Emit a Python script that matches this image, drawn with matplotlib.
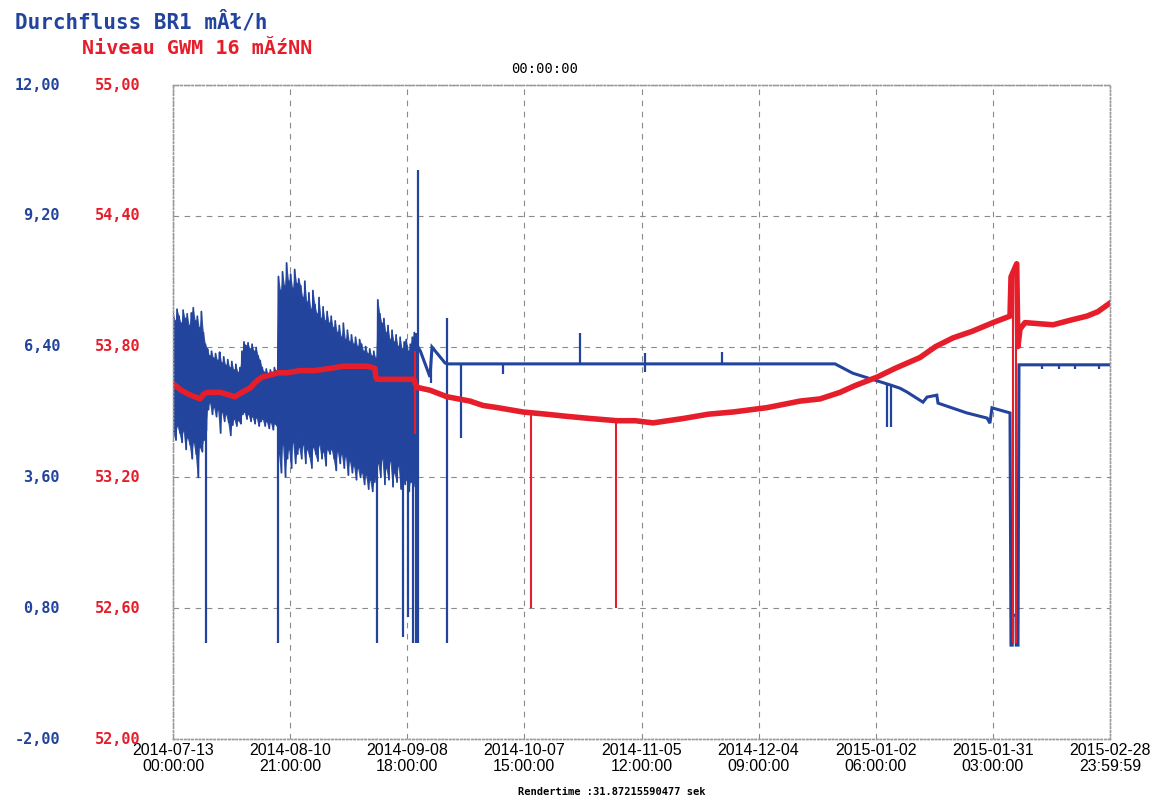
import matplotlib
matplotlib.use("Agg")
import matplotlib.pyplot as plt
import matplotlib.transforms as mtransforms
import numpy as np

BLUE = '#22449c'
RED = '#e61e2b'

# x axis: days since 2014-07-13 00:00:00
X_LABELS = ['2014-07-13\n00:00:00', '2014-08-10\n21:00:00', '2014-09-08\n18:00:00',
            '2014-10-07\n15:00:00', '2014-11-05\n12:00:00', '2014-12-04\n09:00:00',
            '2015-01-02\n06:00:00', '2015-01-31\n03:00:00', '2015-02-28\n23:59:59']
BLUE_TICKS = [12.0, 9.2, 6.4, 3.6, 0.8, -2.0]
RED_TICKS = [55.0, 54.4, 53.8, 53.2, 52.6, 52.0]

# Durchfluss, noisy pump phase (max / min per half day)
noisy_days = np.arange(0, 60.5, 0.5)
noisy_hi = [7.15, 6.95, 7.20, 7.05, 6.90, 7.18, 7.00, 7.10, 6.85, 7.12, 7.23, 6.95, 7.05, 6.80, 7.15, 6.70, 6.45,
            6.35, 6.20, 6.30, 6.15, 6.25, 6.10, 6.28, 6.05, 6.18, 6.00, 6.12, 5.95, 6.08, 5.90, 6.02, 5.85, 5.95,
            6.30, 6.50, 6.42, 6.48, 6.35, 6.45, 6.30, 6.38, 6.20, 6.10,
            5.95, 5.85, 5.92, 5.80, 5.90, 5.83, 5.95, 5.88,
            7.90, 7.60, 8.00, 7.70, 8.19, 7.80, 7.95, 7.65, 8.05, 7.75, 7.85,
            7.70, 7.45, 7.80, 7.35, 7.55, 7.20, 7.60, 7.30, 7.10, 7.45, 7.00, 7.25, 6.95, 7.15, 6.90,
            7.05, 6.80, 6.95, 6.70, 6.85, 6.60, 6.90, 6.55, 6.75, 6.50, 6.65, 6.45, 6.60, 6.40, 6.55,
            6.45, 6.30, 6.40, 6.25, 6.35, 6.20, 6.30, 6.15,
            7.40, 7.10, 6.90, 7.00, 6.70, 6.85, 6.55, 6.75, 6.50, 6.65, 6.40, 6.60, 6.35, 6.50, 6.55, 6.30, 6.45,
            6.60, 6.70, 6.50]
noisy_lo = [4.55, 4.40, 4.70, 4.55, 4.35, 4.60, 4.20, 4.45, 4.30, 4.00, 4.35, 4.10, 3.60, 4.25, 4.15, 4.40, 4.60,
            5.05, 5.20, 4.95, 5.10, 4.90, 5.05, 4.55, 5.00, 4.80, 4.95, 4.78, 4.50, 4.72, 4.85, 4.70, 4.82, 4.75,
            4.95, 5.00, 4.85, 4.95, 4.80, 4.90, 4.75, 4.88, 4.70, 4.80,
            4.85, 4.70, 4.80, 4.65, 4.78, 4.62, 4.75, 4.70,
            4.10, 3.70, 4.30, 3.61, 4.00, 4.20, 3.80, 4.35, 3.90, 4.10, 4.25,
            4.00, 4.30, 3.90, 4.20, 4.05, 3.80, 4.25, 4.10, 3.95, 4.30, 4.00, 4.15, 3.85, 4.20, 4.10,
            4.20, 4.00, 3.75, 4.15, 3.90, 4.10, 3.80, 4.05, 3.65, 3.95, 3.70, 3.85, 3.55, 3.80, 3.60,
            3.70, 3.45, 3.65, 3.35, 3.55, 3.30, 3.50, 3.60,
            3.90, 3.60, 4.00, 3.45, 3.80, 3.55, 3.95, 3.40, 3.70, 3.50, 3.85, 3.35, 3.65, 3.45, 3.55, 3.30, 3.50,
            3.60, 3.40, 3.50]

# Durchfluss, regular phase
blue_days = [60.4, 61.0, 63.36, 63.85, 67.06, 67.55, 163.2, 167.6, 173.1, 176.8, 179.2, 180.9, 184.9, 185.9,
             188.3, 188.6, 195.7, 200.7, 201.4, 201.9, 203.9, 206.35, 206.59, 206.9, 206.95, 207.85, 207.9,
             208.32, 208.56, 231.0]
blue_vals = [6.39, 6.30, 5.75, 6.39, 6.05, 6.03, 6.03, 5.83, 5.68, 5.58, 5.51, 5.43, 5.21, 5.32,
             5.36, 5.19, 4.98, 4.87, 4.76, 5.09, 5.04, 4.98, 0.01, 0.01, 0.65, 0.65, 0.01,
             0.01, 6.01, 6.01]

# single outliers of Durchfluss
spike_days = [8.14, 25.89, 50.29, 56.70, 57.9, 59.17, 59.9, 60.4, 63.6, 67.55, 71.0, 81.36, 100.34,
              116.36, 135.35, 176.0, 177.0, 214.3, 218.4, 222.4, 228.3]
spike_lo = [0.05, 0.05, 0.05, 0.18, 0.61, 0.05, 0.05, 0.05, 5.62, 0.05, 4.44, 5.82, 6.03,
            5.86, 6.03, 4.68, 4.68, 5.93, 5.93, 5.93, 5.93]
spike_hi = [4.60, 4.80, 4.50, 4.00, 4.00, 6.60, 6.70, 10.18, 6.10, 7.01, 6.03, 6.03, 6.69,
            6.26, 6.28, 5.62, 5.58, 6.01, 6.01, 6.01, 6.01]

# Niveau GWM 16
red_days = [0, 2, 4, 6.66, 7.5, 8.38, 10, 11.59, 13.5, 15.28, 17, 18.98, 20.5, 21.94, 24, 25.89, 28,
            31.32, 35, 38.71, 42, 46.10, 48, 49.80, 50.0, 50.29, 55, 59.4, 59.7, 60.4, 60.89, 63.36,
            67.55, 73.22, 76.42, 80, 86.29, 92, 97.13, 103, 109.46, 114, 118.33, 122, 125.73, 132,
            138.06, 146.44, 154.58, 159.51, 164.44, 168, 173.56, 178, 184.16, 188, 192.29, 197, 202.15,
            206.35, 206.6, 208.0, 208.3, 208.81, 210.04, 216.95, 221, 225.33, 228, 231]
red_vals = [53.63, 53.60, 53.58, 53.56, 53.58, 53.59, 53.59, 53.59, 53.58, 53.57, 53.59, 53.61, 53.64,
            53.66, 53.67, 53.68, 53.68, 53.69, 53.69, 53.70, 53.71, 53.71, 53.71, 53.70, 53.66, 53.65,
            53.65, 53.65, 53.63, 53.61, 53.61, 53.60,
            53.57, 53.55, 53.53, 53.52, 53.50, 53.49, 53.48, 53.47, 53.46, 53.46, 53.45, 53.46, 53.47, 53.49,
            53.50, 53.52, 53.55, 53.56, 53.59, 53.62, 53.66, 53.70, 53.75, 53.80, 53.84, 53.87, 53.91,
            53.94, 54.12, 54.18, 53.80, 53.88, 53.91, 53.90, 53.92, 53.94, 53.96, 54.00]
red_spike_days = [59.55, 88.26, 109.21, 207.2, 207.9]
red_spike_lo = [53.40, 52.60, 52.60, 52.44, 52.44]
red_spike_hi = [53.78, 53.49, 53.46, 54.15, 54.17]

fig = plt.figure(figsize=(11.55, 8), dpi=100)
ax = fig.add_axes([173 / 1155, 1 - 739 / 800, 937 / 1155, 654 / 800])
ax2 = ax.twinx()

ax.set_xlim(0, 231)
ax.set_ylim(-2, 12)
ax2.set_ylim(52, 55)

# blue (Durchfluss): zigzag between max and min of each half day
zig_x = np.ravel(np.column_stack([noisy_days, noisy_days + 0.25]))
zig_y = np.ravel(np.column_stack([noisy_hi, noisy_lo]))
ax.fill_between(noisy_days, noisy_lo, noisy_hi, color=BLUE, lw=0, alpha=0.9)
ax.plot(zig_x, zig_y, color=BLUE, lw=1.3)
ax.vlines(spike_days, spike_lo, spike_hi, color=BLUE, lw=1.6)
ax.plot(blue_days, blue_vals, color=BLUE, lw=2.2, solid_joinstyle='miter')

# red (Niveau)
ax2.plot(red_days, red_vals, color=RED, lw=4.0)
ax2.vlines(red_spike_days, red_spike_lo, red_spike_hi, color=RED, lw=1.5)

# grid
ax.set_xticks(np.linspace(0, 231, len(X_LABELS)), X_LABELS)
ax.set_yticks(BLUE_TICKS)
ax.grid(True, color='#8a8a8a', lw=0.8, linestyle=(0, (5, 5)))
ax.set_axisbelow(True)
ax.tick_params(axis='x', length=0, pad=3, labelsize=11.5)
for lbl in ax.get_xticklabels():
    lbl.set_family('Liberation Sans')
    lbl.set_linespacing(1.1)
ax.tick_params(axis='y', length=0, labelleft=False)
ax2.set_yticks([])
for a in (ax, ax2):
    for s in a.spines.values():
        s.set_color('#9a9a9a')
        s.set_linestyle(':')
        s.set_linewidth(1.0)

# y labels, both on the left
trans = mtransforms.blended_transform_factory(fig.transFigure, ax.transData)
for v in BLUE_TICKS:
    ax.text(60 / 1155, v, f"{v:.2f}".replace('.', ','), transform=trans, ha='right', va='center',
            color=BLUE, fontsize=11, fontweight='bold', family='DejaVu Sans Mono')
trans2 = mtransforms.blended_transform_factory(fig.transFigure, ax2.transData)
for v in RED_TICKS:
    ax2.text(140 / 1155, v, f"{v:.2f}".replace('.', ','), transform=trans2, ha='right', va='center',
             color=RED, fontsize=11, fontweight='bold', family='DejaVu Sans Mono')

fig.text(15 / 1155, 1 - 22 / 800, 'Durchfluss BR1 mÂł/h', color=BLUE, fontsize=15,
         fontweight='bold', family='DejaVu Sans Mono', va='center')
fig.text(82 / 1155, 1 - 48 / 800, 'Niveau GWM 16 mĂźNN', color=RED, fontsize=14.5,
         fontweight='bold', family='DejaVu Sans Mono', va='center')
fig.text(545 / 1155, 1 - 69 / 800, '00:00:00', color='black', fontsize=10,
         family='DejaVu Sans Mono', ha='center', va='center')
fig.text(612 / 1155, 1 - 792 / 800, 'Rendertime :31.87215590477 sek', color='black', fontsize=7.5,
         fontweight='bold', family='DejaVu Sans Mono', ha='center', va='center')

fig.savefig('out.png', dpi=100)
